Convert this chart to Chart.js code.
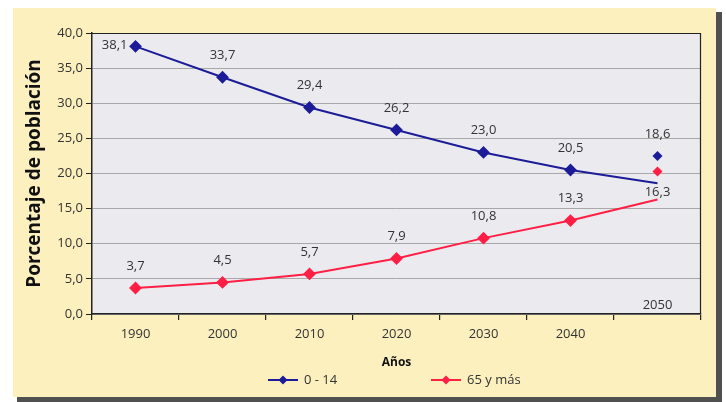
<!DOCTYPE html>
<html><head><meta charset="utf-8">
<script src="https://cdn.jsdelivr.net/npm/chart.js@4"></script>
<style>html,body{margin:0;padding:0;background:#fff;}canvas{display:block;}</style>
</head><body>
<canvas id="c" width="726" height="402"></canvas>
<script>
const years = ['1990','2000','2010','2020','2030','2040','2050'];
const young = [38.1, 33.7, 29.4, 26.2, 23.0, 20.5, 18.6];
const old = [3.7, 4.5, 5.7, 7.9, 10.8, 13.3, 16.3];
// stray 2050 markers as they appear in the reference (displaced from line ends)
const youngMarker2050 = 22.5;
const oldMarker2050 = 20.3;
const yTicks = [0, 5, 10, 15, 20, 25, 30, 35, 40];

const BLUE = '#1c1c98';
const RED = '#ff1f44';
const FONT = "'Open Sans', 'DejaVu Sans', sans-serif";
const fmt = v => v.toFixed(1).replace('.', ',');

const bgPlugin = {
  id: 'bg',
  beforeDraw(chart) {
    const ctx = chart.ctx, a = chart.chartArea;
    ctx.save();
    ctx.fillStyle = '#ffffff';
    ctx.fillRect(0, 0, chart.width, chart.height);
    ctx.fillStyle = '#505050';
    ctx.fillRect(17, 12, 705, 390);
    ctx.fillStyle = '#fcf0bf';
    ctx.fillRect(13, 8, 703, 389);
    ctx.fillStyle = '#ebebef';
    ctx.fillRect(a.left, a.top, a.right - a.left, a.bottom - a.top);
    ctx.restore();
  },
  afterDatasetsDraw(chart) {
    const ctx = chart.ctx, a = chart.chartArea;
    const xs = chart.scales.x, ys = chart.scales.y;
    ctx.save();
    ctx.strokeStyle = '#222';
    ctx.lineWidth = 1.2;
    ctx.beginPath();
    ctx.moveTo(a.left, a.top + 0.5);
    ctx.lineTo(a.right - 0.5, a.top + 0.5);
    ctx.lineTo(a.right - 0.5, a.bottom);
    ctx.stroke();
    // data labels
    ctx.font = '13px ' + FONT;
    ctx.fillStyle = '#333';
    ctx.textAlign = 'center';
    ctx.textBaseline = 'middle';
    const last = years.length - 1;
    young.forEach((v, i) => {
      const x = xs.getPixelForValue(i);
      if (i === 0) {
        ctx.textAlign = 'right';
        ctx.fillText(fmt(v), x - 8, ys.getPixelForValue(v) - 1);
        ctx.textAlign = 'center';
      } else if (i === last) {
        ctx.fillText(fmt(v), x, ys.getPixelForValue(youngMarker2050) - 22);
      } else {
        ctx.fillText(fmt(v), x, ys.getPixelForValue(v) - 22);
      }
    });
    old.forEach((v, i) => {
      const x = xs.getPixelForValue(i);
      if (i === last) {
        ctx.fillText(fmt(v), x, ys.getPixelForValue(oldMarker2050) + 21);
      } else {
        ctx.fillText(fmt(v), x, ys.getPixelForValue(v) - 22);
      }
    });
    // 2050 category label drawn inside the plot as in the reference
    ctx.fillText(years[last], xs.getPixelForValue(last), ys.getPixelForValue(0) - 9);
    ctx.restore();
  },
  afterDraw(chart) {
    const ctx = chart.ctx;
    ctx.save();
    const items = [
      {label: '0 - 14', color: BLUE, x: 268},
      {label: '65 y más', color: RED, x: 431}
    ];
    const y = 380;
    items.forEach(it => {
      ctx.strokeStyle = it.color;
      ctx.lineWidth = 2;
      ctx.beginPath();
      ctx.moveTo(it.x, y);
      ctx.lineTo(it.x + 30, y);
      ctx.stroke();
      ctx.fillStyle = it.color;
      ctx.beginPath();
      const cx = it.x + 15;
      ctx.moveTo(cx, y - 4.5); ctx.lineTo(cx + 4.5, y); ctx.lineTo(cx, y + 4.5); ctx.lineTo(cx - 4.5, y);
      ctx.closePath(); ctx.fill();
      ctx.fillStyle = '#333';
      ctx.font = '13px ' + FONT;
      ctx.textAlign = 'left';
      ctx.textBaseline = 'middle';
      ctx.fillText(it.label, it.x + 36, y);
    });
    ctx.restore();
  }
};

const lastIdx = years.length - 1;
const radii = years.map((_, i) => i === lastIdx ? 0 : 5);

new Chart(document.getElementById('c'), {
  type: 'line',
  data: {
    labels: years,
    datasets: [
      {label: '0 - 14', data: young, borderColor: BLUE, backgroundColor: BLUE, borderWidth: 2,
       pointStyle: 'rectRot', pointRadius: radii, pointHoverRadius: radii, tension: 0},
      {label: '65 y más', data: old, borderColor: RED, backgroundColor: RED, borderWidth: 2,
       pointStyle: 'rectRot', pointRadius: radii, pointHoverRadius: radii, tension: 0},
      {data: years.map((_, i) => i === lastIdx ? youngMarker2050 : null), showLine: false,
       borderColor: BLUE, backgroundColor: BLUE, pointStyle: 'rectRot', pointRadius: 5, borderWidth: 0},
      {data: years.map((_, i) => i === lastIdx ? oldMarker2050 : null), showLine: false,
       borderColor: RED, backgroundColor: RED, pointStyle: 'rectRot', pointRadius: 5, borderWidth: 0}
    ]
  },
  options: {
    responsive: false,
    animation: false,
    events: [],
    layout: {padding: {left: 0, right: 25, top: 33, bottom: 0}},
    plugins: {legend: {display: false}, tooltip: {enabled: false}},
    scales: {
      x: {
        type: 'category',
        offset: true,
        afterFit(s) { s.height = 402 - 314; },
        grid: {offset: true, drawOnChartArea: false, drawTicks: true, tickLength: 6, color: '#222', lineWidth: 1.2},
        border: {color: '#222', width: 1.5},
        ticks: {
          font: {family: FONT, size: 13}, color: '#333', padding: 6,
          callback(v, i) { return i === lastIdx ? '' : years[i]; }
        },
        title: {display: true, text: 'Años', font: {family: FONT, size: 12, weight: 'bold'}, color: '#111',
                padding: {top: 0, bottom: 32}}
      },
      y: {
        min: 0, max: 40,
        afterFit(s) { s.width = 92; },
        afterBuildTicks(s) { s.ticks = yTicks.map(v => ({value: v})); },
        grid: {color: '#a8a8a8', lineWidth: 1, drawTicks: true, tickLength: 6, tickColor: '#222'},
        border: {color: '#222', width: 1.5},
        ticks: {font: {family: FONT, size: 13}, color: '#333', padding: 3,
                callback(v) { return v.toFixed(1).replace('.', ','); }},
        title: {display: true, text: 'Porcentaje de población', font: {family: FONT, size: 19, weight: 'bold'},
                color: '#111', padding: {top: 23, bottom: 0}}
      }
    }
  },
  plugins: [bgPlugin]
});
</script>
</body></html>
